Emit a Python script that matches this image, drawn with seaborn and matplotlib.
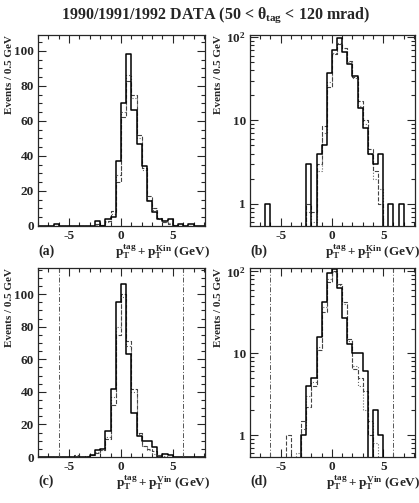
"""Tagged-electron pT balance, 1990-1992 data vs two MC models (KIN and VIN)."""
import numpy as np
import pandas as pd
import seaborn as sns
import matplotlib
matplotlib.use("Agg")
from matplotlib import pyplot as plt
from matplotlib import ticker

# bins of 0.5 GeV from -8 to 8 GeV (32 bins)
edges = np.arange(-8.0, 8.01, 0.5)
centers = edges[:-1] + 0.25

#  lower edge:  -8 -7.5 -7 -6.5 -6 -5.5 -5 -4.5 -4 -3.5 -3 -2.5 -2 -1.5 -1 -0.5 0 0.5 1 1.5 2 2.5 3 3.5 4 4.5 5 5.5 6 6.5 7 7.5
kin_data = [0, 0, 0, 1, 0, 0, 0, 0, 0, 0, 0, 3, 0, 4, 5, 37, 70, 98, 66, 47, 34, 14, 8, 4, 3, 4, 0, 1, 0, 1, 0, 0]
kin_mc1 = [0, 0, 0, 0, 0, 0, 0, 0, 0, 0, 0, 1, 0.8, 3, 8.5, 25, 62, 83, 75, 52, 33, 17, 10, 4.5, 2.5, 1, 0.3, 0, 0, 0, 0, 0]
kin_mc2 = [0, 0, 0, 0, 0, 0, 0, 0, 0, 0, 0, 0.8, 0.6, 2.5, 7, 29, 65, 86, 73, 50, 32, 15, 9, 4, 2, 1.5, 0.4, 0, 0, 0, 0, 0]

vin_data = [0, 0, 0, 0, 0, 0, 0, 0, 0, 0, 1, 4, 5, 16, 42, 95, 106, 63, 27, 13, 10, 10, 6, 0, 2, 1, 0, 0, 0, 0, 0, 0]
vin_mc1 = [0, 0, 0, 0, 0, 0, 0, 1, 0, 0, 1.5, 2.2, 4, 11, 32, 75, 100, 71, 42, 15, 6.5, 5, 3.5, 1, 0, 0, 0, 0, 0, 0, 0, 0]
vin_mc2 = [0, 0, 0, 0, 0, 0, 0, 0, 0, 0.6, 1.2, 3, 4.5, 12, 37, 80, 98, 68, 40, 14, 7, 4, 2, 1.5, 0.8, 0, 0, 0, 0, 0, 0, 0]

cut_lines = [-6, 6]

sns.set_style("ticks")
plt.rcParams["font.family"] = ["Liberation Serif", "DejaVu Serif"]
plt.rcParams["font.weight"] = "bold"
plt.rcParams["axes.labelweight"] = "bold"
plt.rcParams["axes.unicode_minus"] = False
plt.rcParams["mathtext.fontset"] = "custom"
plt.rcParams["mathtext.rm"] = "Liberation Serif:bold"
plt.rcParams["mathtext.it"] = "Liberation Serif:bold"
plt.rcParams["mathtext.bf"] = "Liberation Serif:bold"

W, H = 419, 503
fig = plt.figure(figsize=(W / 100, H / 100), dpi=100)


def frac(left, top, right, bottom):
    return [left / W, 1 - bottom / H, (right - left) / W, (bottom - top) / H]


panels = [
    ("(a)", frac(38, 35, 205, 226), kin_data, kin_mc1, kin_mc2, False, "Kin", False, -0.145),
    ("(b)", frac(250, 35, 415, 226), kin_data, kin_mc1, kin_mc2, True, "Kin", False, -0.165),
    ("(c)", frac(38, 268, 205, 457), vin_data, vin_mc1, vin_mc2, False, "Vin", True, -0.145),
    ("(d)", frac(250, 268, 415, 457), vin_data, vin_mc1, vin_mc2, True, "Vin", True, -0.165),
]

for tag, rect, data, mc1, mc2, logy, name, cuts, ylab_x in panels:
    ax = fig.add_axes(rect)
    df = pd.DataFrame({"pt": centers, "data": data, "mc1": mc1, "mc2": mc2})
    hist_kw = dict(data=df, x="pt", binwidth=0.5, binrange=(-8, 8),
                   element="step", fill=False, ax=ax)
    sns.histplot(weights="mc2", color="#666666", linewidth=0.8, linestyle=":", **hist_kw)
    sns.histplot(weights="mc1", color="#444444", linewidth=0.8, linestyle="--", **hist_kw)
    sns.histplot(weights="data", color="black", linewidth=1.1, **hist_kw)
    if cuts:
        for xc in cut_lines:
            ax.axvline(xc, color="#555555", lw=0.7, ls=(0, (5, 2, 1, 2)))

    ax.set_xlim(-8, 8.1)
    ax.xaxis.set_major_locator(ticker.FixedLocator([-5, 0, 5]))
    ax.xaxis.set_minor_locator(ticker.MultipleLocator(1))
    if logy:
        ax.set_yscale("log")
        ax.set_ylim(0.54, 106 if name == "Kin" else 110)
        ax.yaxis.set_major_locator(ticker.FixedLocator([1, 10, 100]))
        ax.yaxis.set_major_formatter(ticker.FixedFormatter(["1", "10", "10$^{2}$"]))
        ax.yaxis.set_minor_locator(ticker.LogLocator(subs=np.arange(2, 10)))
        ax.yaxis.set_minor_formatter(ticker.NullFormatter())
    else:
        ax.set_ylim(0, 109 if name == "Kin" else 116)
        ax.yaxis.set_major_locator(ticker.MultipleLocator(20))
        ax.yaxis.set_minor_locator(ticker.MultipleLocator(5))

    ax.tick_params(which="both", direction="in", top=True, right=True,
                   labelsize=9.5, width=0.8)
    ax.tick_params(which="major", length=6, pad=3)
    ax.tick_params(which="minor", length=3)
    for lab in ax.get_xticklabels() + ax.get_yticklabels():
        lab.set_fontweight("bold")
    for s in ax.spines.values():
        s.set_linewidth(0.9)

    ax.set_xlabel("")
    ax.set_ylabel("Events / 0.5 GeV", loc="top", fontsize=8)
    ax.yaxis.set_label_coords(ylab_x, 1.0)
    ax.text(0.0, -0.13, tag, transform=ax.transAxes, fontsize=10,
            fontweight="bold", ha="left", va="center")
    ax.text(1.03, -0.135, r"$p_T^{tag} + p_T^{%s}$ (GeV)" % name,
            transform=ax.transAxes, fontsize=9.5, fontweight="bold",
            ha="right", va="center")

fig.text(0.515, 1 - 15 / H, r"1990/1991/1992 DATA (50 < $\theta_{tag}$ < 120 mrad)",
         fontsize=11.5, fontweight="bold", ha="center", va="center")

fig.savefig("out.png", dpi=100)
